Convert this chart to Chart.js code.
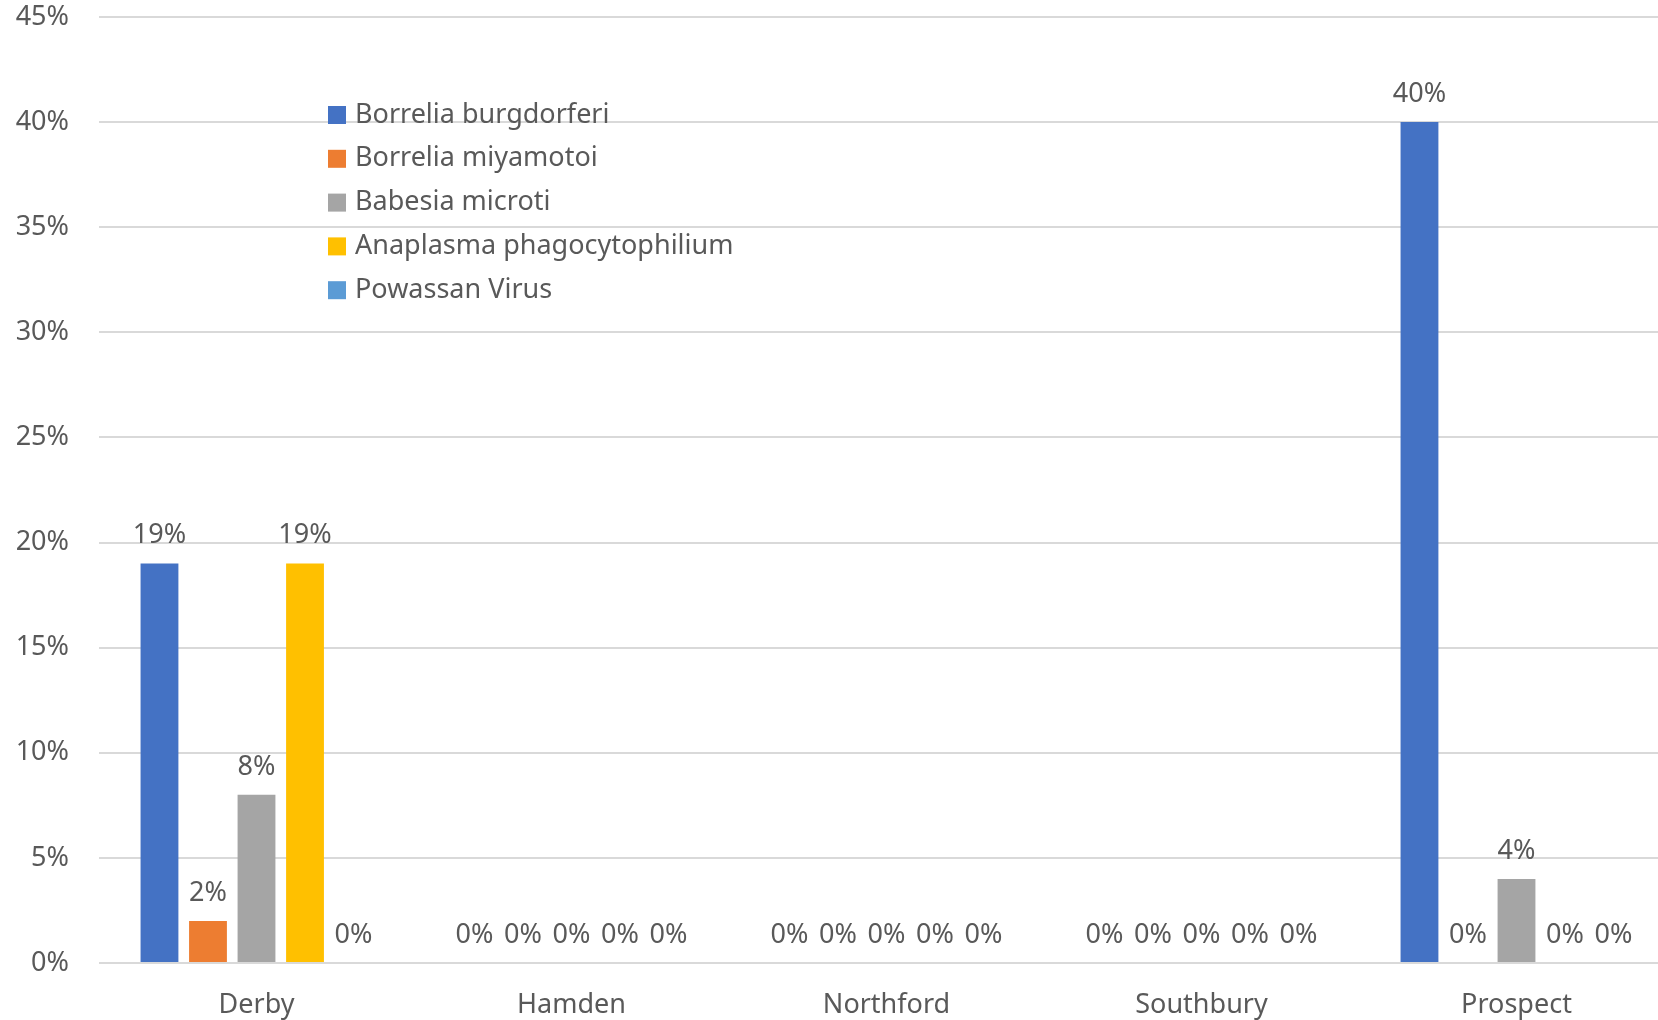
<!DOCTYPE html>
<html>
<head>
<meta charset="utf-8">
<script src="https://cdn.jsdelivr.net/npm/chart.js@4/dist/chart.umd.min.js"></script>
<style>
  html, body { margin: 0; padding: 0; background: #fff; overflow: hidden; }
  #wrap { position: relative; width: 1674px; height: 1020px; }
</style>
</head>
<body>
<div id="wrap"><canvas id="tickChart"></canvas></div>
<script>
const towns = ["Derby", "Hamden", "Northford", "Southbury", "Prospect"];
const burgdorferi = [19, 0, 0, 0, 40];
const miyamotoi = [2, 0, 0, 0, 0];
const microti = [8, 0, 0, 0, 4];
const anaplasma = [19, 0, 0, 0, 0];
const powassan = [0, 0, 0, 0, 0];
const yTicks = [0, 5, 10, 15, 20, 25, 30, 35, 40, 45];

const textColor = "#595959";
const fontFamily = "'Segoe UI', 'Noto Sans', sans-serif";
const fontSize = 27;

// value labels above each bar
const barLabels = {
    id: "barLabels",
    afterDatasetsDraw(chart) {
        const ctx = chart.ctx;
        ctx.save();
        ctx.fillStyle = textColor;
        ctx.font = fontSize + "px " + fontFamily;
        ctx.textAlign = "center";
        ctx.textBaseline = "middle";
        chart.data.datasets.forEach((ds, i) => {
            chart.getDatasetMeta(i).data.forEach((bar, j) => {
                ctx.fillText(ds.data[j] + "%", bar.x, bar.y - 28);
            });
        });
        ctx.restore();
    }
};

// legend drawn inside the plot area
const innerLegend = {
    id: "innerLegend",
    afterDraw(chart) {
        const ctx = chart.ctx;
        ctx.save();
        ctx.font = fontSize + "px " + fontFamily;
        ctx.textBaseline = "middle";
        chart.data.datasets.forEach((ds, i) => {
            const y = 115 + i * 43.8;
            ctx.fillStyle = ds.backgroundColor;
            ctx.fillRect(328, y - 9, 18, 18);
            ctx.fillStyle = textColor;
            ctx.fillText(ds.label, 355, y);
        });
        ctx.restore();
    }
};

const ctx = document.getElementById("tickChart").getContext("2d");
new Chart(ctx, {
    type: "bar",
    data: {
        labels: towns,
        datasets: [
            { label: "Borrelia burgdorferi", data: burgdorferi, backgroundColor: "#4472C4" },
            { label: "Borrelia miyamotoi", data: miyamotoi, backgroundColor: "#ED7D31" },
            { label: "Babesia microti", data: microti, backgroundColor: "#A5A5A5" },
            { label: "Anaplasma phagocytophilium", data: anaplasma, backgroundColor: "#FFC000" },
            { label: "Powassan Virus", data: powassan, backgroundColor: "#5B9BD5" }
        ]
    },
    options: {
        responsive: true,
        maintainAspectRatio: false,
        animation: false,
        categoryPercentage: 0.77,
        barPercentage: 0.78,
        layout: { padding: { top: 17, right: 0, bottom: 0, left: 0 } },
        scales: {
            x: {
                grid: { display: false },
                border: { display: false },
                ticks: {
                    color: textColor,
                    font: { family: fontFamily, size: fontSize },
                    padding: 18
                },
                afterFit(scale) {
                    scale.height = 57;
                    scale.paddingLeft = 0;
                    scale.paddingRight = 0;
                }
            },
            y: {
                min: 0,
                max: 45,
                afterBuildTicks(scale) { scale.ticks = yTicks.map(v => ({ value: v })); },
                grid: { color: "#D9D9D9", lineWidth: 2, drawTicks: false },
                border: { display: false },
                ticks: {
                    color: textColor,
                    font: { family: fontFamily, size: fontSize },
                    padding: 30,
                    callback: v => v + "%"
                },
                afterFit(scale) {
                    scale.width = 99;
                    scale.paddingTop = 0;
                    scale.paddingBottom = 0;
                }
            }
        },
        plugins: {
            legend: { display: false },
            tooltip: { enabled: false }
        }
    },
    plugins: [barLabels, innerLegend]
});
</script>
</body>
</html>
